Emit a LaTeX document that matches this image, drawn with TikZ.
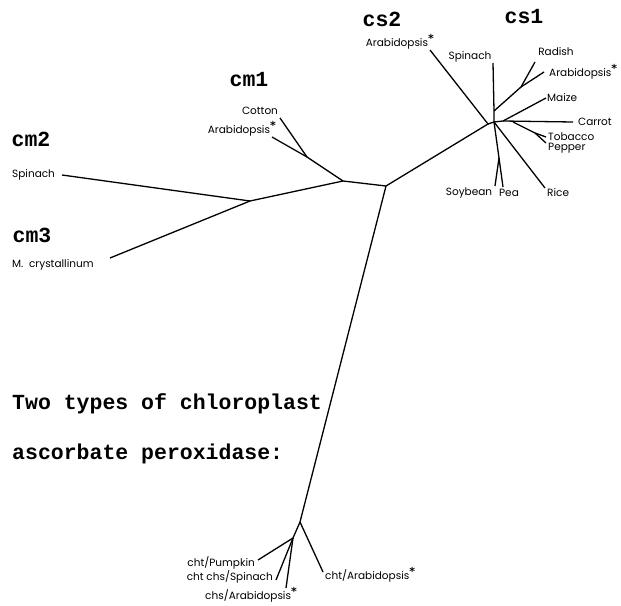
\documentclass[tikz,border=0pt]{standalone}
\usepackage{fontspec}
\setmainfont{Poppins}
\newfontfamily\cour{Liberation Mono}
\newfontfamily\stfont{DejaVu Sans}
\begin{document}
\begin{tikzpicture}[x=1pt,y=-1pt,
  br/.style={line width=1.3pt},
  lab/.style={font=\fontsize{10.5}{11}\selectfont, inner sep=0pt},
  grp/.style={font=\cour\bfseries\fontsize{21.5}{23}\selectfont, inner sep=0pt}]
\useasboundingbox (0,0) rectangle (621,605);
\newcommand{\st}{\raisebox{0.75ex}{\stfont\bfseries\fontsize{11}{11}\selectfont *}}
% junctions and leaf ends
\coordinate (C) at (386,186);
\coordinate (cmA) at (343,181);
\coordinate (cm1j) at (307,157);
\coordinate (cotE) at (280,118);
\coordinate (ar1E) at (272,137);
\coordinate (cm23) at (250,201);
\coordinate (spE) at (62,175);
\coordinate (mcE) at (110,258);
\coordinate (csA) at (488,124);
\coordinate (ar2E) at (430,50);
\coordinate (csB) at (494,122);
\coordinate (spk) at (494,111);
\coordinate (spinE) at (493,63);
\coordinate (radj) at (521,87);
\coordinate (radE) at (535,62);
\coordinate (ar3E) at (544,72);
\coordinate (csC) at (503,121);
\coordinate (maizeE) at (546,98);
\coordinate (carE) at (573,122);
\coordinate (tpb) at (513,122);
\coordinate (tpj) at (535,133);
\coordinate (tobE) at (546,137);
\coordinate (pepE) at (546,143);
\coordinate (spj) at (499,158);
\coordinate (soyE) at (495,186);
\coordinate (peaE) at (503,187);
\coordinate (riceE) at (545,188);
\coordinate (B) at (300,522);
\coordinate (Bi) at (293,538);
\coordinate (chtAE) at (323,572);
\coordinate (pumE) at (258,560);
\coordinate (spchE) at (276,580);
\coordinate (chsAE) at (286,588);
% branches
\draw[br] (C) -- (cmA) -- (cm1j) -- (cotE);
\draw[br] (cm1j) -- (ar1E);
\draw[br] (cmA) -- (cm23) -- (spE);
\draw[br] (cm23) -- (mcE);
\draw[br] (C) -- (csA) -- (ar2E);
\draw[br] (csA) -- (csB) -- (spk) -- (spinE);
\draw[br] (spk) -- (radj) -- (radE);
\draw[br] (radj) -- (ar3E);
\draw[br] (csB) -- (csC) -- (maizeE);
\draw[br] (csC) -- (carE);
\draw[br] (tpb) -- (tpj) -- (tobE);
\draw[br] (tpj) -- (pepE);
\draw[br] (csB) -- (spj) -- (soyE);
\draw[br] (spj) -- (peaE);
\draw[br] (csB) -- (riceE);
\draw[br] (C) -- (B) -- (chtAE);
\draw[br] (B) -- (Bi) -- (pumE);
\draw[br] (Bi) -- (spchE);
\draw[br] (Bi) -- (chsAE);
% group labels
\node[grp] (cs1) at (524,17) {cs1};
\node[grp] (cs2) at (382,19) {cs2};
\node[grp] (cm1) at (249,80) {cm1};
\node[grp] (cm2) at (31,139) {cm2};
\node[grp] (cm3) at (32,235) {cm3};
\node[grp, anchor=base west] (t1) at (12,409) {Two types of chloroplast};
\node[grp, anchor=base west] (t2) at (12,459) {ascorbate peroxidase:};
% leaf labels
\node[lab] (lsp1) at (470,57) {Spinach};
\node[lab] (lrad) at (556,52) {Radish};
\node[lab, anchor=west] (lar3) at (549,72) {Arabidopsis\st};
\node[lab, anchor=west] (lmai) at (547,98) {Maize};
\node[lab, anchor=west] (lcar) at (578,122) {Carrot};
\node[lab, anchor=west] (ltob) at (548,137) {Tobacco};
\node[lab, anchor=west] (lpep) at (548,148) {Pepper};
\node[lab] (lsoy) at (469,193) {Soybean};
\node[lab] (lpea) at (509,193) {Pea};
\node[lab, anchor=west] (lric) at (547,193) {Rice};
\node[lab, anchor=east] (lar2) at (434,42) {Arabidopsis\st};
\node[lab] (lcot) at (260,111) {Cotton};
\node[lab, anchor=east] (lar1) at (276,129) {Arabidopsis\st};
\node[lab, anchor=west] (lsp2) at (12,175) {Spinach};
\node[lab, anchor=west] (lmc) at (12,265) {M.~~crystallinum};
\node[lab, anchor=east] (lpum) at (255,563) {cht/Pumpkin};
\node[lab, anchor=east] (lspc) at (273,577) {cht chs/Spinach};
\node[lab, anchor=east] (lchs) at (297,595) {chs/Arabidopsis\st};
\node[lab, anchor=west] (lcht) at (325,575) {cht/Arabidopsis\st};
\end{tikzpicture}
\end{document}
